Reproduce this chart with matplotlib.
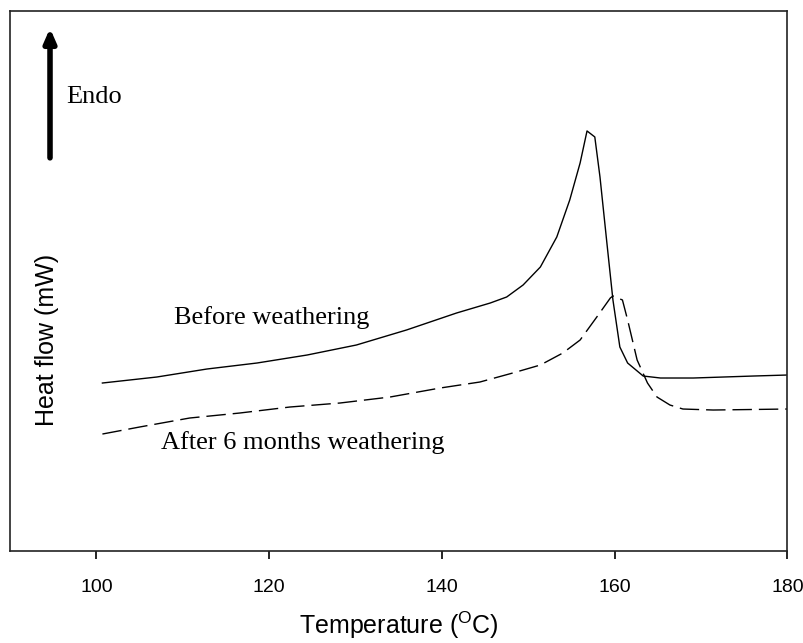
import matplotlib
matplotlib.use("Agg")
import matplotlib.pyplot as plt

# DSC curves (heat flow in arbitrary units)
temp_before = [100.7, 107.0, 112.8, 118.6, 124.4, 130.1, 135.9, 141.7, 145.6, 147.5,
               149.4, 151.4, 153.3, 154.8, 156.0, 156.8, 157.7, 158.3, 159.1, 159.8,
               160.6, 161.5, 163.3, 165.3, 169.1, 176.1, 180.0]
flow_before = [168, 174, 182, 188, 196, 206, 221, 238, 248, 254,
               266, 284, 314, 351, 388, 420, 414, 374, 308, 251,
               204, 188, 175, 173, 173, 175, 176]

temp_after = [100.7, 105.0, 110.8, 116.6, 122.4, 128.2, 134.0, 139.8, 144.4, 148.2,
              151.4, 154.0, 156.0, 158.1, 159.5, 159.8, 160.9, 161.5, 162.6, 163.8,
              164.9, 166.4, 167.9, 171.4, 180.0]
flow_after = [117, 124, 133, 138, 144, 148, 154, 163, 169, 178,
              186, 198, 211, 236, 253, 255, 251, 231, 191, 168,
              154, 146, 142, 141, 142]

x_ticks = [100, 120, 140, 160, 180]

fig = plt.figure(figsize=(8.04, 6.43), dpi=100)
ax = fig.add_axes([0.0124, 0.143, 0.967, 0.840])

ax.plot(temp_before, flow_before, color="black", lw=1.0)
ax.plot(temp_after, flow_after, color="black", lw=1.0, dashes=(14, 5))

ax.set_xlim(90, 180)
ax.set_ylim(0, 540)
ax.set_xticks(x_ticks)
ax.set_yticks([])
ax.tick_params(axis="x", direction="out", length=6, width=1.2, pad=14,
               labelsize=14)
for lab in ax.get_xticklabels():
    lab.set_fontfamily("Liberation Sans")
for s in ax.spines.values():
    s.set_linewidth(1.2)
    s.set_color("#222222")

fig.text(0.496, 0.003, "Temperature ($\\mathregular{^{O}}$C)", ha="center",
         va="bottom", fontsize=18, fontfamily="Liberation Sans")
ax.text(0.048, 0.39, "Heat flow (mW)", transform=ax.transAxes, rotation=90,
        ha="center", va="center", fontsize=18, fontfamily="Liberation Sans")

# endotherm direction arrow
ax.annotate("", xy=(0.0515, 0.968), xytext=(0.0515, 0.728),
            xycoords="axes fraction", textcoords="axes fraction",
            arrowprops=dict(arrowstyle="-|>,head_length=0.8,head_width=0.35",
                            lw=4, color="black", shrinkA=0, shrinkB=0))
ax.text(0.072, 0.841, "Endo", transform=ax.transAxes, ha="left", va="center",
        fontsize=19, fontfamily="Liberation Serif")

ax.text(109.0, 233, "Before weathering", ha="left", va="center",
        fontsize=19, fontfamily="Liberation Serif")
ax.text(107.5, 109, "After 6 months weathering", ha="left", va="center",
        fontsize=19, fontfamily="Liberation Serif")

plt.savefig("out.png", dpi=100)
